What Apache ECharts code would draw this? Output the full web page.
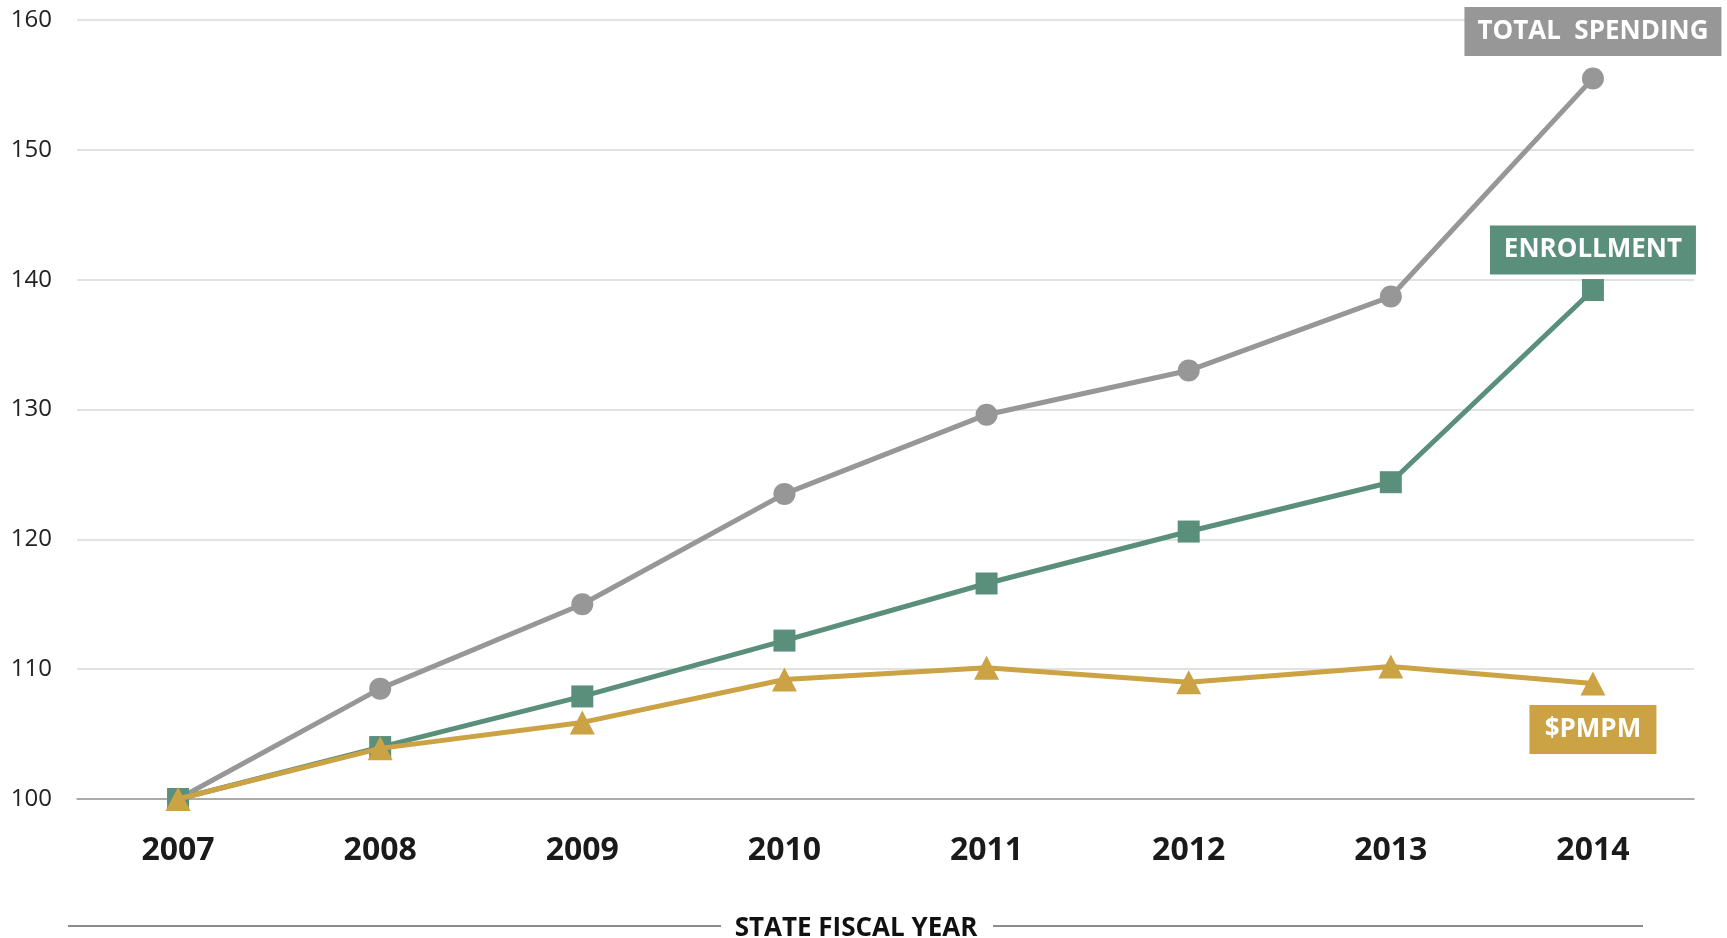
<!DOCTYPE html>
<html>
<head>
<meta charset="utf-8">
<script src="https://cdn.jsdelivr.net/npm/echarts@6/dist/echarts.min.js"></script>
<style>
  html, body { margin: 0; padding: 0; background: #ffffff; }
  #chart { width: 1727px; height: 938px; }
</style>
</head>
<body>
<div id="chart"></div>
<script>
// Index (2007 = 100) by state fiscal year
const years = ['2007', '2008', '2009', '2010', '2011', '2012', '2013', '2014'];
const totalSpending = [100, 108.5, 115.0, 123.5, 129.6, 133.0, 138.7, 155.5];
const enrollment = [100, 104.0, 107.9, 112.2, 116.6, 120.6, 124.4, 139.2];
const pmpm = [100, 103.9, 105.9, 109.2, 110.1, 109.0, 110.2, 108.9];
const seriesNames = ['TOTAL  SPENDING', 'ENROLLMENT', '$PMPM'];
const axisTitle = 'STATE FISCAL YEAR';

const FONT = '"Open Sans", "Noto Sans", sans-serif';
const GRAY = '#979797';
const GREEN = '#5a8f7b';
const GOLD = '#cba244';

// Attach a boxed name tag to the final point of a series
function withEndTag(values, name, color, pos, dist, boxWidth) {
  return values.map((v, i) => {
    if (i !== values.length - 1) return v;
    return {
      value: v,
      label: {
        show: true,
        position: pos,
        distance: dist,
        formatter: name,
        color: '#ffffff',
        fontFamily: FONT,
        fontWeight: 'bold',
        fontSize: 26,
        backgroundColor: color,
        width: boxWidth,
        height: 29,
        lineHeight: 29,
        align: 'center',
        verticalAlign: 'middle',
        padding: [10, 12],
        overflow: 'none'
      }
    };
  });
}

const chart = echarts.init(document.getElementById('chart'));
chart.setOption({
  animation: false,
  grid: { left: 77, right: 33, top: 20, bottom: 139, containLabel: false },
  xAxis: {
    type: 'category',
    data: years,
    boundaryGap: true,
    axisLine: { show: true, lineStyle: { color: '#999999', width: 1.5 } },
    axisTick: { show: false },
    axisLabel: {
      color: '#1a1a1a',
      fontFamily: FONT,
      fontWeight: 'bold',
      fontSize: 32,
      margin: 36
    }
  },
  yAxis: {
    type: 'value',
    min: 100,
    max: 160,
    interval: 10,
    axisLine: { show: false },
    axisTick: { show: false },
    splitLine: { lineStyle: { color: '#d9d9d9', width: 1.5 } },
    axisLabel: {
      color: '#222222',
      fontFamily: FONT,
      fontSize: 24,
      margin: 25
    }
  },
  series: [
    {
      name: seriesNames[0],
      type: 'line',
      data: withEndTag(totalSpending, seriesNames[0], GRAY, 'top', 36, 233),
      symbol: 'circle',
      symbolSize: 22,
      lineStyle: { color: GRAY, width: 5 },
      itemStyle: { color: GRAY },
      z: 2
    },
    {
      name: seriesNames[1],
      type: 'line',
      data: withEndTag(enrollment, seriesNames[1], GREEN, 'top', 29, 182),
      symbol: 'rect',
      symbolSize: 22,
      lineStyle: { color: GREEN, width: 5 },
      itemStyle: { color: GREEN },
      z: 3
    },
    {
      name: seriesNames[2],
      type: 'line',
      data: withEndTag(pmpm, seriesNames[2], GOLD, 'bottom', 34, 103),
      symbol: 'triangle',
      symbolSize: [25, 24],
      lineStyle: { color: GOLD, width: 5 },
      itemStyle: { color: GOLD },
      z: 4
    }
  ],
  graphic: [
    {
      type: 'line',
      shape: { x1: 68, y1: 926, x2: 721, y2: 926 },
      style: { stroke: '#8c8c8c', lineWidth: 2 }
    },
    {
      type: 'line',
      shape: { x1: 993, y1: 926, x2: 1643, y2: 926 },
      style: { stroke: '#8c8c8c', lineWidth: 2 }
    },
    {
      type: 'text',
      x: 856,
      y: 929,
      style: {
        text: axisTitle,
        fill: '#111111',
        font: 'bold 26px ' + FONT,
        align: 'center',
        verticalAlign: 'middle'
      }
    }
  ]
});
</script>
</body>
</html>
